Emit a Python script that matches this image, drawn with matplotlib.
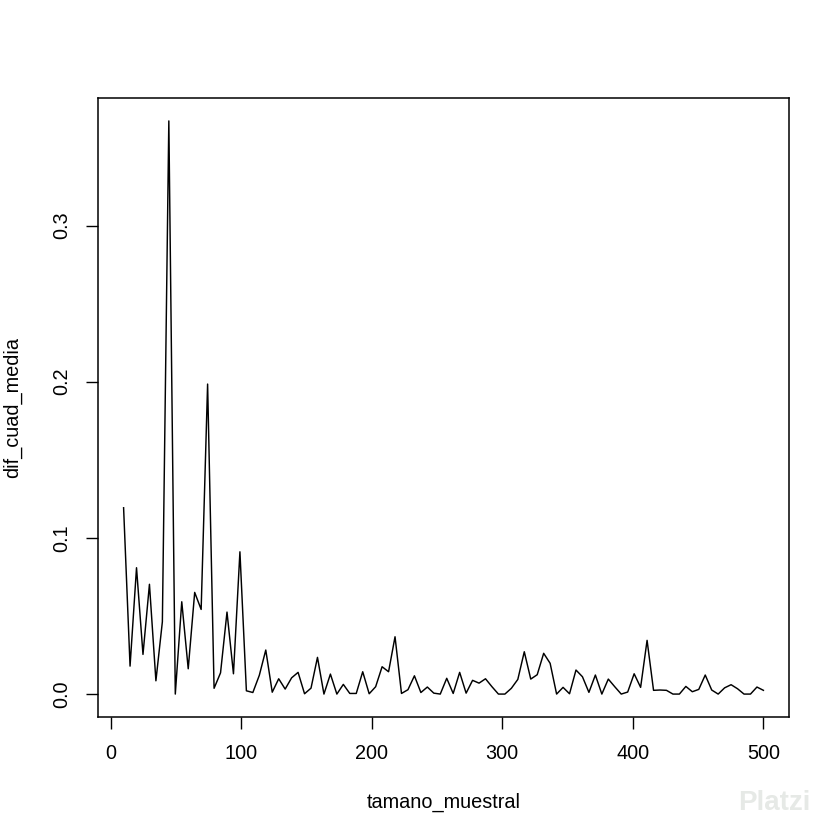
import numpy as np
import matplotlib
matplotlib.use("Agg")
import matplotlib.pyplot as plt

plt.rcParams['font.family'] = ['Liberation Sans', 'DejaVu Sans']

# sample sizes: 100 evenly spaced values from 10 to 500
tamano_muestral = np.linspace(10, 500, 100)

dif_cuad_media = [
    0.1193, 0.0179, 0.0809, 0.0254, 0.0703, 0.0085, 0.0463, 0.3670, 0.0000, 0.0591,
    0.0162, 0.0651, 0.0542, 0.1985, 0.0037, 0.0136, 0.0525, 0.0130, 0.0911, 0.0021,
    0.0010, 0.0120, 0.0282, 0.0012, 0.0098, 0.0032, 0.0104, 0.0139, 0.0002, 0.0038,
    0.0235, 0.0000, 0.0128, 0.0000, 0.0062, 0.0004, 0.0004, 0.0143, 0.0002, 0.0047,
    0.0175, 0.0143, 0.0367, 0.0004, 0.0028, 0.0117, 0.0010, 0.0045, 0.0006, 0.0000,
    0.0101, 0.0004, 0.0139, 0.0006, 0.0088, 0.0070, 0.0098, 0.0047, 0.0000, 0.0000,
    0.0037, 0.0094, 0.0271, 0.0096, 0.0124, 0.0261, 0.0197, 0.0000, 0.0043, 0.0002,
    0.0154, 0.0111, 0.0011, 0.0122, 0.0000, 0.0096, 0.0047, 0.0000, 0.0013, 0.0130,
    0.0043, 0.0344, 0.0024, 0.0026, 0.0024, 0.0000, 0.0000, 0.0049, 0.0015, 0.0030,
    0.0122, 0.0026, 0.0000, 0.0040, 0.0060, 0.0034, 0.0000, 0.0000, 0.0045, 0.0024,
]

x_ticks = [0, 100, 200, 300, 400, 500]
y_ticks = [0.0, 0.1, 0.2, 0.3]
y_tick_labels = ["0.0", "0.1", "0.2", "0.3"]

W = H = 840
fig = plt.figure(figsize=(8.4, 8.4), dpi=100)
ax = fig.add_axes([98 / W, (H - 717) / H, (789 - 98) / W, (717 - 98) / H])

ax.plot(tamano_muestral, dif_cuad_media, color='black', lw=1.05)

# R-style 4% axis expansion
xmin, xmax = min(tamano_muestral), max(tamano_muestral)
ymin, ymax = min(dif_cuad_media), max(dif_cuad_media)
dx = (xmax - xmin) * 0.04
dy = (ymax - ymin) * 0.04
ax.set_xlim(xmin - dx, xmax + dx)
ax.set_ylim(ymin - dy, ymax + dy)

ax.set_xticks(x_ticks)
ax.set_xticklabels([str(t) for t in x_ticks])
ax.set_yticks(y_ticks)
ax.set_yticklabels(y_tick_labels, rotation=90, va='center')

fs = 14.3
ax.tick_params(axis='both', direction='out', length=8.6, width=1.0,
               labelsize=fs, color='black')
ax.tick_params(axis='x', pad=11)
ax.tick_params(axis='y', pad=11)
for s in ax.spines.values():
    s.set_linewidth(1.1)
    s.set_color('black')

ax.set_xlabel('tamano_muestral', fontsize=fs, labelpad=21)
ax.set_ylabel('dif_cuad_media', fontsize=fs, labelpad=21)

# watermark
fig.text(738 / W, 1 - 803 / H, 'Platzi', fontsize=20, color='#e6e9e6',
         ha='left', va='center', fontweight='bold')

fig.savefig('out.png', dpi=100, facecolor='white')
